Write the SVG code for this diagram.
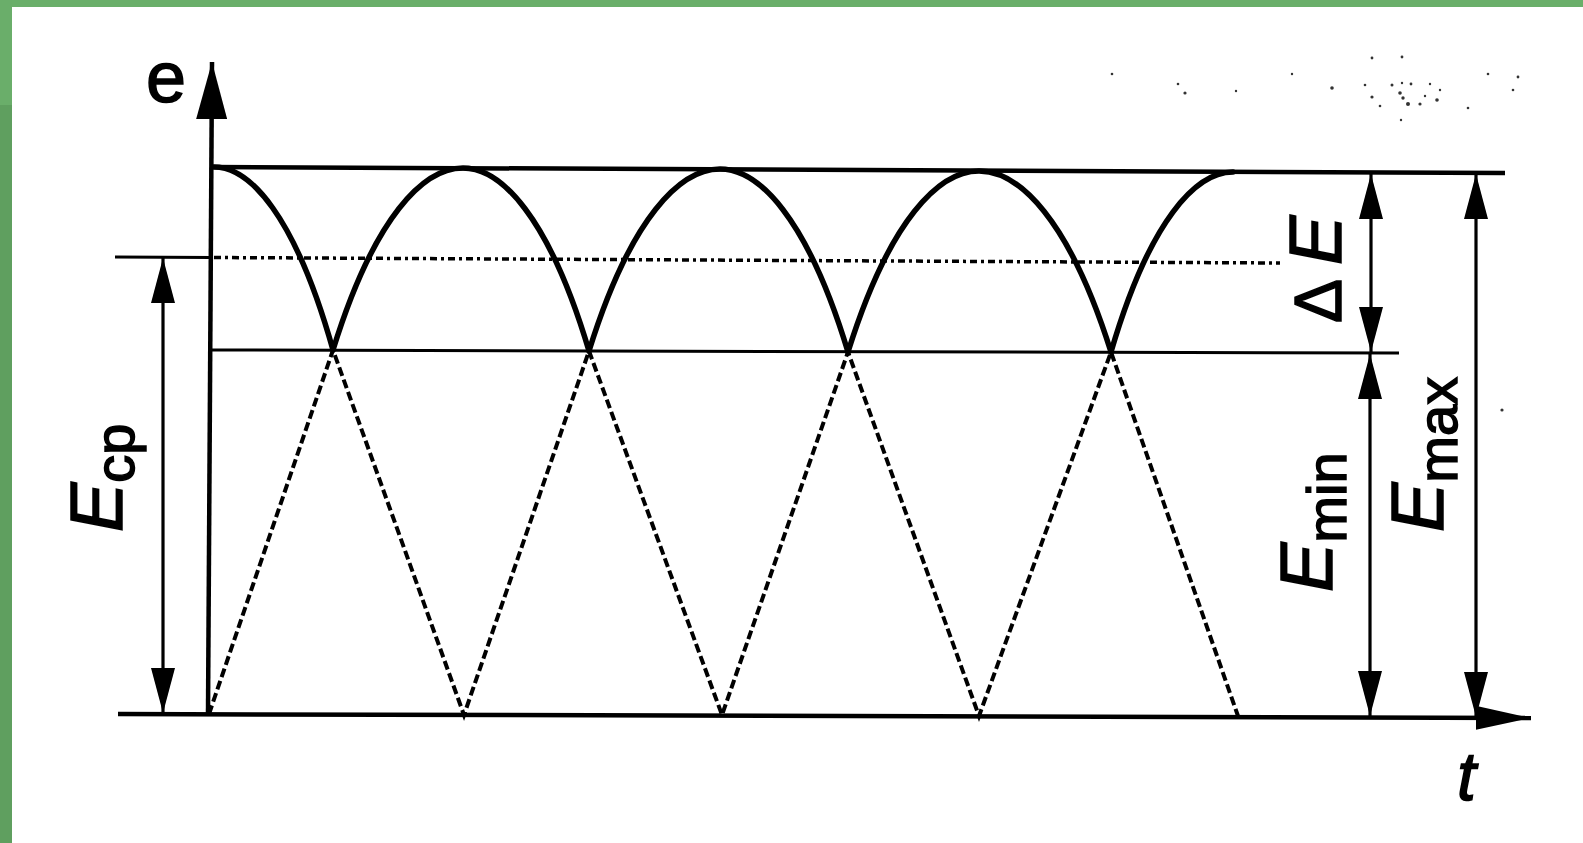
<svg xmlns="http://www.w3.org/2000/svg" width="1583" height="843" viewBox="0 0 1583 843">
<style>
.ln{stroke:#000;fill:none;stroke-linecap:butt}
.bold{stroke-width:4.5}
.thin{stroke-width:3}
.curve{stroke:#000;fill:none;stroke-width:5.5;stroke-linecap:round}
.dash{stroke:#000;fill:none;stroke-width:4;stroke-dasharray:9 4}
.dashdot{stroke:#000;fill:none;stroke-width:3.5;stroke-dasharray:7 4 3 4}
.dim{stroke:#000;fill:none;stroke-width:3.2;marker-start:url(#ah);marker-end:url(#ah)}
text{font-family:"Liberation Sans",Arial,sans-serif;fill:#000;stroke:#000;stroke-width:1.5}
.it{font-style:italic}
.main{font-size:74px}
.sub{font-size:56px;font-style:normal}
.speck{fill:#333}
</style>
<defs>
<marker id="ah" viewBox="0 0 45 24" refX="45" refY="12" markerWidth="45" markerHeight="24" orient="auto-start-reverse" markerUnits="userSpaceOnUse"><path d="M0,0 L45,12 L0,24 Z" fill="#000"/></marker>
<marker id="axY" viewBox="0 0 57 31" refX="57" refY="15.5" markerWidth="57" markerHeight="31" orient="auto" markerUnits="userSpaceOnUse"><path d="M0,0 L57,15.5 L0,31 Z" fill="#000"/></marker>
<marker id="axX" viewBox="0 0 55 24" refX="55" refY="12" markerWidth="55" markerHeight="24" orient="auto" markerUnits="userSpaceOnUse"><path d="M0,0 L55,12 L0,24 Z" fill="#000"/></marker>
</defs>
<rect x="0" y="0" width="1583" height="843" fill="#ffffff"/>
<g id="frame">
<rect x="0" y="0" width="1583" height="7" fill="#6aaf6a"/>
<rect x="0" y="0" width="12" height="105" fill="#6aae6a"/>
<rect x="0" y="105" width="12" height="738" fill="#5f9f5f"/>
</g>
<g id="specks">
<circle class="speck" cx="1112" cy="74" r="1.3"/>
<circle class="speck" cx="1178" cy="84" r="1.3"/>
<circle class="speck" cx="1185" cy="93" r="1.6"/>
<circle class="speck" cx="1236" cy="91" r="1.2"/>
<circle class="speck" cx="1292" cy="74" r="1.2"/>
<circle class="speck" cx="1332" cy="88" r="1.8"/>
<circle class="speck" cx="1365" cy="85" r="1.3"/>
<circle class="speck" cx="1372" cy="97" r="1.6"/>
<circle class="speck" cx="1380" cy="106" r="1.3"/>
<circle class="speck" cx="1392" cy="85" r="1.5"/>
<circle class="speck" cx="1372" cy="58" r="1.4"/>
<circle class="speck" cx="1403" cy="98" r="1.7"/>
<circle class="speck" cx="1411" cy="84" r="1.4"/>
<circle class="speck" cx="1425" cy="96" r="1.2"/>
<circle class="speck" cx="1401" cy="120" r="1.2"/>
<circle class="speck" cx="1402" cy="57" r="1.4"/>
<circle class="speck" cx="1402" cy="83" r="1.2"/>
<circle class="speck" cx="1400" cy="93" r="1.8"/>
<circle class="speck" cx="1408" cy="104" r="2"/>
<circle class="speck" cx="1420" cy="104" r="1.6"/>
<circle class="speck" cx="1430" cy="84" r="1.2"/>
<circle class="speck" cx="1437" cy="100" r="1.8"/>
<circle class="speck" cx="1440" cy="90" r="1.2"/>
<circle class="speck" cx="1488" cy="74" r="1.3"/>
<circle class="speck" cx="1468" cy="108" r="1.3"/>
<circle class="speck" cx="1513" cy="90" r="1.3"/>
<circle class="speck" cx="1518" cy="77" r="1.4"/>
<circle class="speck" cx="1502" cy="410" r="1.6"/>
</g>
<g id="grid-lines">
<line class="ln bold" x1="212" y1="167" x2="1505" y2="173"/>
<line class="ln thin" x1="115" y1="257" x2="212" y2="257.5"/>
<line class="dashdot" x1="214" y1="257.5" x2="1280" y2="263"/>
<line class="ln thin" x1="212" y1="350" x2="1399" y2="353"/>
</g>
<g id="axes">
<line class="ln bold" x1="208" y1="714" x2="212" y2="62" marker-end="url(#axY)"/>
<line class="ln bold" x1="118" y1="714" x2="1531" y2="718" marker-end="url(#axX)"/>
</g>
<g id="waveforms">
<path class="curve" d="M214,167 C249.7,167 294.9,214.6 333,350"/>
<path class="curve" d="M333,350 C374.6,215.3 424,168 463,168 C500.8,168 548.7,215.6 589,351"/>
<path class="curve" d="M589,351 C630.9,216.3 680.7,169 720,169 C758.4,169 807,216.6 848,352"/>
<path class="curve" d="M848,352 C889.9,218.1 939.7,171 979,171 C1018.6,171 1068.8,218.1 1111,352"/>
<path class="curve" d="M1111,352 C1150,218.8 1196.4,172 1233,172"/>
<path class="dash" d="M209,714 L333,350 L464,715 L589,351 L722,715 L848,352 L979,716 L1111,352 L1238,716"/>
</g>
<g id="dimensions">
<line class="dim" x1="163" y1="258" x2="163" y2="713"/>
<line class="dim" x1="1371" y1="174" x2="1371" y2="352"/>
<line class="dim" x1="1370" y1="354" x2="1370" y2="716"/>
<line class="dim" x1="1476" y1="174" x2="1476" y2="717"/>
</g>
<g id="labels">
<text x="146" y="102" font-size="72" stroke-width="0.8">e</text>
<text class="it" x="1457" y="800" font-size="68">t</text>
<text class="main" transform="translate(122,532) rotate(-90)"><tspan class="it">E</tspan><tspan class="sub" dy="12">cp</tspan></text>
<text class="main" transform="translate(1332,592) rotate(-90)"><tspan class="it">E</tspan><tspan class="sub" dy="14">min</tspan></text>
<text class="main" transform="translate(1443,532) rotate(-90)"><tspan class="it">E</tspan><tspan class="sub" dy="14">max</tspan></text>
<text class="main" transform="translate(1341,323) rotate(-90)"><tspan font-size="66">Δ</tspan><tspan class="it" dx="14">E</tspan></text>
</g>
</svg>
